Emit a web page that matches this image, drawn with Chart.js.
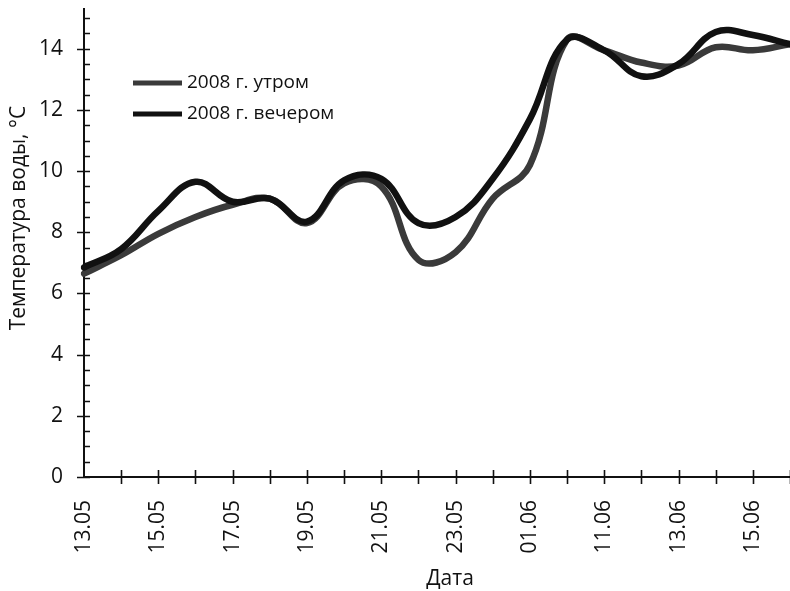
<!DOCTYPE html>
<html>
<head>
<meta charset="utf-8">
<script src="https://cdn.jsdelivr.net/npm/chart.js@4.4.1/dist/chart.umd.min.js"></script>
<style>
  html, body { margin: 0; padding: 0; background: #fff; overflow: hidden; }
  canvas { display: block; }
</style>
</head>
<body>
<canvas id="mycanvas" width="790" height="591"></canvas>
<script>
// dates (only every other one is labelled on the axis)
var dates = ['13.05', '14.05', '15.05', '16.05', '17.05', '18.05', '19.05', '20.05', '21.05', '22.05',
             '23.05', '24.05', '01.06', '10.06', '11.06', '12.06', '13.06', '14.06', '15.06', '16.06'];
var morning = [6.65, 7.25, 7.95, 8.5, 8.9, 9.1, 8.3, 9.6, 9.5, 7.1,
               7.35, 9.1, 10.2, 14.3, 13.95, 13.55, 13.45, 14.05, 13.95, 14.15];
var evening = [6.85, 7.45, 8.7, 9.65, 9.0, 9.1, 8.35, 9.7, 9.75, 8.3,
               8.5, 9.75, 11.7, 14.3, 13.95, 13.1, 13.5, 14.55, 14.45, 14.15];
var yTicks = [0, 2, 4, 6, 8, 10, 12, 14];
var seriesNames = ['2008 г. утром', '2008 г. вечером'];

var FONT = "'Open Sans', 'Noto Sans', sans-serif";

// tick marks, inner legend and axis titles
var decor = {
    id: 'decor',
    afterDraw: function(chart) {
        var ctx = chart.ctx;
        var xs = chart.scales.x, ys = chart.scales.y;
        var area = chart.chartArea;
        ctx.save();
        ctx.strokeStyle = '#111';
        ctx.lineWidth = 1.6;
        ctx.beginPath();
        // y: minor ticks every 0.5 inside, major ticks crossing
        for (var v = 0; v <= ys.max + 0.001; v += 0.5) {
            var py = Math.round(ys.getPixelForValue(v)) + 0.5;
            if (v % 2 === 0) {
                ctx.moveTo(area.left - 7, py); ctx.lineTo(area.left + 6, py);
            } else {
                ctx.moveTo(area.left, py); ctx.lineTo(area.left + 6, py);
            }
        }
        // x: tick at every date, crossing the axis
        for (var i = 1; i < dates.length; i++) {
            var px = Math.round(xs.getPixelForValue(i)) + 0.5;
            ctx.moveTo(px, area.bottom - 7); ctx.lineTo(px, area.bottom + 7);
        }
        ctx.stroke();

        // legend inside the plot
        ctx.font = '19px ' + FONT;
        ctx.fillStyle = '#111';
        ctx.textBaseline = 'middle';
        chart.data.datasets.forEach(function(ds, k) {
            var ly = 83 + k * 31;
            ctx.strokeStyle = ds.borderColor;
            ctx.lineWidth = 5;
            ctx.beginPath();
            ctx.moveTo(133, ly); ctx.lineTo(182, ly);
            ctx.stroke();
            ctx.fillText(ds.label, 187, ly);
        });

        // axis titles
        ctx.font = '21px ' + FONT;
        ctx.textAlign = 'center';
        ctx.fillText('Дата', 450, 579);
        ctx.save();
        ctx.translate(19, 218);
        ctx.rotate(-Math.PI / 2);
        ctx.fillText('Температура воды, °C', 0, 0);
        ctx.restore();
        ctx.restore();
    }
};

var chartdata = {
    labels: dates,
    datasets: [
        {
            label: seriesNames[0],
            data: morning,
            borderColor: '#3a3a3a',
            borderWidth: 6.5,
            order: 1
        },
        {
            label: seriesNames[1],
            data: evening,
            borderColor: '#111111',
            borderWidth: 6.5,
            order: 0
        }
    ]
};

var ctx = document.getElementById('mycanvas');
var lineGraph = new Chart(ctx, {
    type: 'line',
    data: chartdata,
    plugins: [decor],
    options: {
        responsive: false,
        animation: false,
        devicePixelRatio: 1,
        layout: { padding: { top: 9, right: 0, left: 0, bottom: 0 } },
        elements: {
            point: { radius: 0 },
            line: { tension: 0.4, borderCapStyle: 'round', borderJoinStyle: 'round', fill: false }
        },
        plugins: {
            legend: { display: false },
            tooltip: { enabled: false }
        },
        scales: {
            x: {
                offset: false,
                grid: { display: false },
                border: { display: true, color: '#111', width: 2 },
                ticks: {
                    autoSkip: false,
                    minRotation: 90,
                    maxRotation: 90,
                    padding: 15,
                    color: '#111',
                    font: { family: FONT, size: 21 },
                    callback: function(val, index) {
                        return index % 2 === 0 ? dates[index] : '';
                    }
                },
                afterFit: function(scale) {
                    scale.height = 591 - 9 - 468;
                    scale.paddingRight = 0;
                    scale.paddingLeft = 0;
                }
            },
            y: {
                min: 0,
                max: 15.3,
                grid: { display: false },
                border: { display: true, color: '#111', width: 2 },
                afterBuildTicks: function(scale) {
                    scale.ticks = yTicks.map(function(v) { return { value: v }; });
                },
                ticks: {
                    padding: 13,
                    color: '#111',
                    font: { family: FONT, size: 21 }
                },
                afterFit: function(scale) {
                    scale.width = 84;
                    scale.paddingTop = 0;
                    scale.paddingBottom = 0;
                }
            }
        }
    }
});
</script>
</body>
</html>
